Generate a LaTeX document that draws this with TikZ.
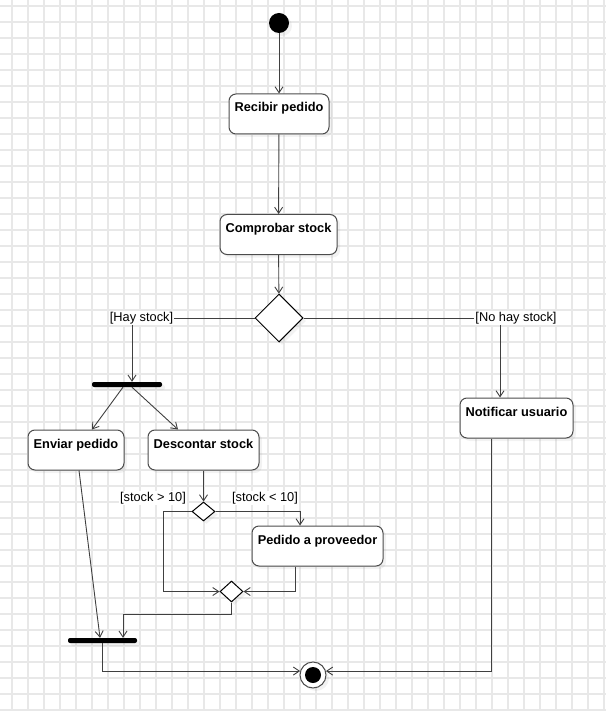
\documentclass[tikz,border=0pt]{standalone}
\usepackage{fontspec}
\setmainfont{Liberation Sans}
\usetikzlibrary{shapes.geometric,arrows.meta,shadows,positioning}

\begin{document}
\begin{tikzpicture}[x=1pt,y=-1pt,>={Straight Barb[length=6pt,width=8pt]},
    every node/.style={font=\fontsize{12.8}{15}\selectfont},
    soft/.style={drop shadow={shadow xshift=3pt,shadow yshift=-3pt,opacity=0.1}},
    gridline/.style={draw=black!9,line width=1.2pt},
    act/.style={draw=black!70,line width=1pt,rounded corners=7pt,fill=white,soft,
      minimum height=40pt,inner ysep=4pt,text height=14pt,text depth=18pt,
      font=\fontsize{12.8}{15}\selectfont\bfseries},
    decision/.style={diamond,draw=black,line width=1pt,fill=white,soft,inner sep=0pt},
    bar/.style={fill=black,minimum width=70pt,minimum height=5pt,inner sep=0pt,rounded corners=2pt,soft},
    begin/.style={circle,fill=black,minimum size=20pt,inner sep=0pt,soft},
    finish/.style={circle,draw=black!70,line width=1pt,fill=white,minimum size=26pt,inner sep=0pt,soft,
      path picture={\fill[black] (path picture bounding box.center) circle (8pt);}},
    flow/.style={draw=black!75,line width=0.9pt,->},
    guard/.style={fill=white,inner sep=1pt}]
       \useasboundingbox (0,0) rectangle (606,711);
       % background grid
       \foreach \gx in {12,28,...,604} \draw[gridline] (\gx,0) -- (\gx,711);
       \foreach \gy in {6,22,...,710} \draw[gridline] (0,\gy) -- (606,\gy);
       % nodes
       \node[begin] (start) at (279,23) {};
       \node[act,minimum width=100pt] (recibir) at (279,114) {Recibir pedido};
       \node[act,minimum width=117pt] (comprobar) at (278.5,234.5) {Comprobar stock};
       \node[decision,minimum width=48pt,minimum height=48pt] (dec) at (279,318) {};
       \node[bar] (fork1) at (127,384.5) {};
       \node[act,minimum width=96pt] (enviar) at (76,450) {Enviar pedido};
       \node[act,minimum width=111pt] (descontar) at (203.5,450) {Descontar stock};
       \node[act,minimum width=113pt] (notificar) at (516.5,418) {Notificar usuario};
       \node[decision,minimum width=23pt,minimum height=19pt] (dec2) at (203.5,511.5) {};
       \node[act,minimum width=131pt] (pedido) at (317.5,546) {Pedido a proveedor};
       \node[decision,minimum width=23pt,minimum height=21pt] (merge) at (231.5,591.5) {};
       \node[bar,minimum width=69pt] (fork2) at (102.5,640.5) {};
       \node[finish] (final) at (313,675) {};
       % connectors
       \draw[flow] (start) -- (recibir);
       \draw[flow] (recibir) -- (comprobar);
       \draw[flow] (comprobar) -- (dec);
       \draw[flow] (dec.west) -| ([xshift=5pt]fork1.north);
       \draw[flow] (dec.east) -| ([xshift=-16.5pt]notificar.north);
       \draw[flow] ([xshift=-4pt]fork1.south) -- ([xshift=16pt]enviar.north);
       \draw[flow] ([xshift=5pt]fork1.south) -- ([xshift=-25.5pt]descontar.north);
       \draw[flow] (descontar) -- (dec2);
       \draw[flow] (dec2.west) -- ++(-28,0) |- (merge.west);
       \draw[flow] (dec2.east) -| ([xshift=-17.5pt]pedido.north);
       \draw[flow] ([xshift=-22.5pt]pedido.south) |- (merge.east);
       \draw[flow] (merge.south) -- ++(0,12) -| ([xshift=20.5pt]fork2.north);
       \draw[flow] ([xshift=3pt]enviar.south) -- ([xshift=-2.5pt]fork2.north);
       \draw[flow] (fork2.south) |- (final.163);
       \draw[flow] ([xshift=-25.5pt]notificar.south) |- (final.17);
       % guards
       \node[guard] (hay) at (141.5,318) {[Hay stock]};
       \node[guard] (nohay) at (516,318) {[No hay stock]};
       \node[guard] (mayor) at (153,498) {[stock > 10]};
       \node[guard] (menor) at (265,498) {[stock < 10]};
\end{tikzpicture}
\end{document}
